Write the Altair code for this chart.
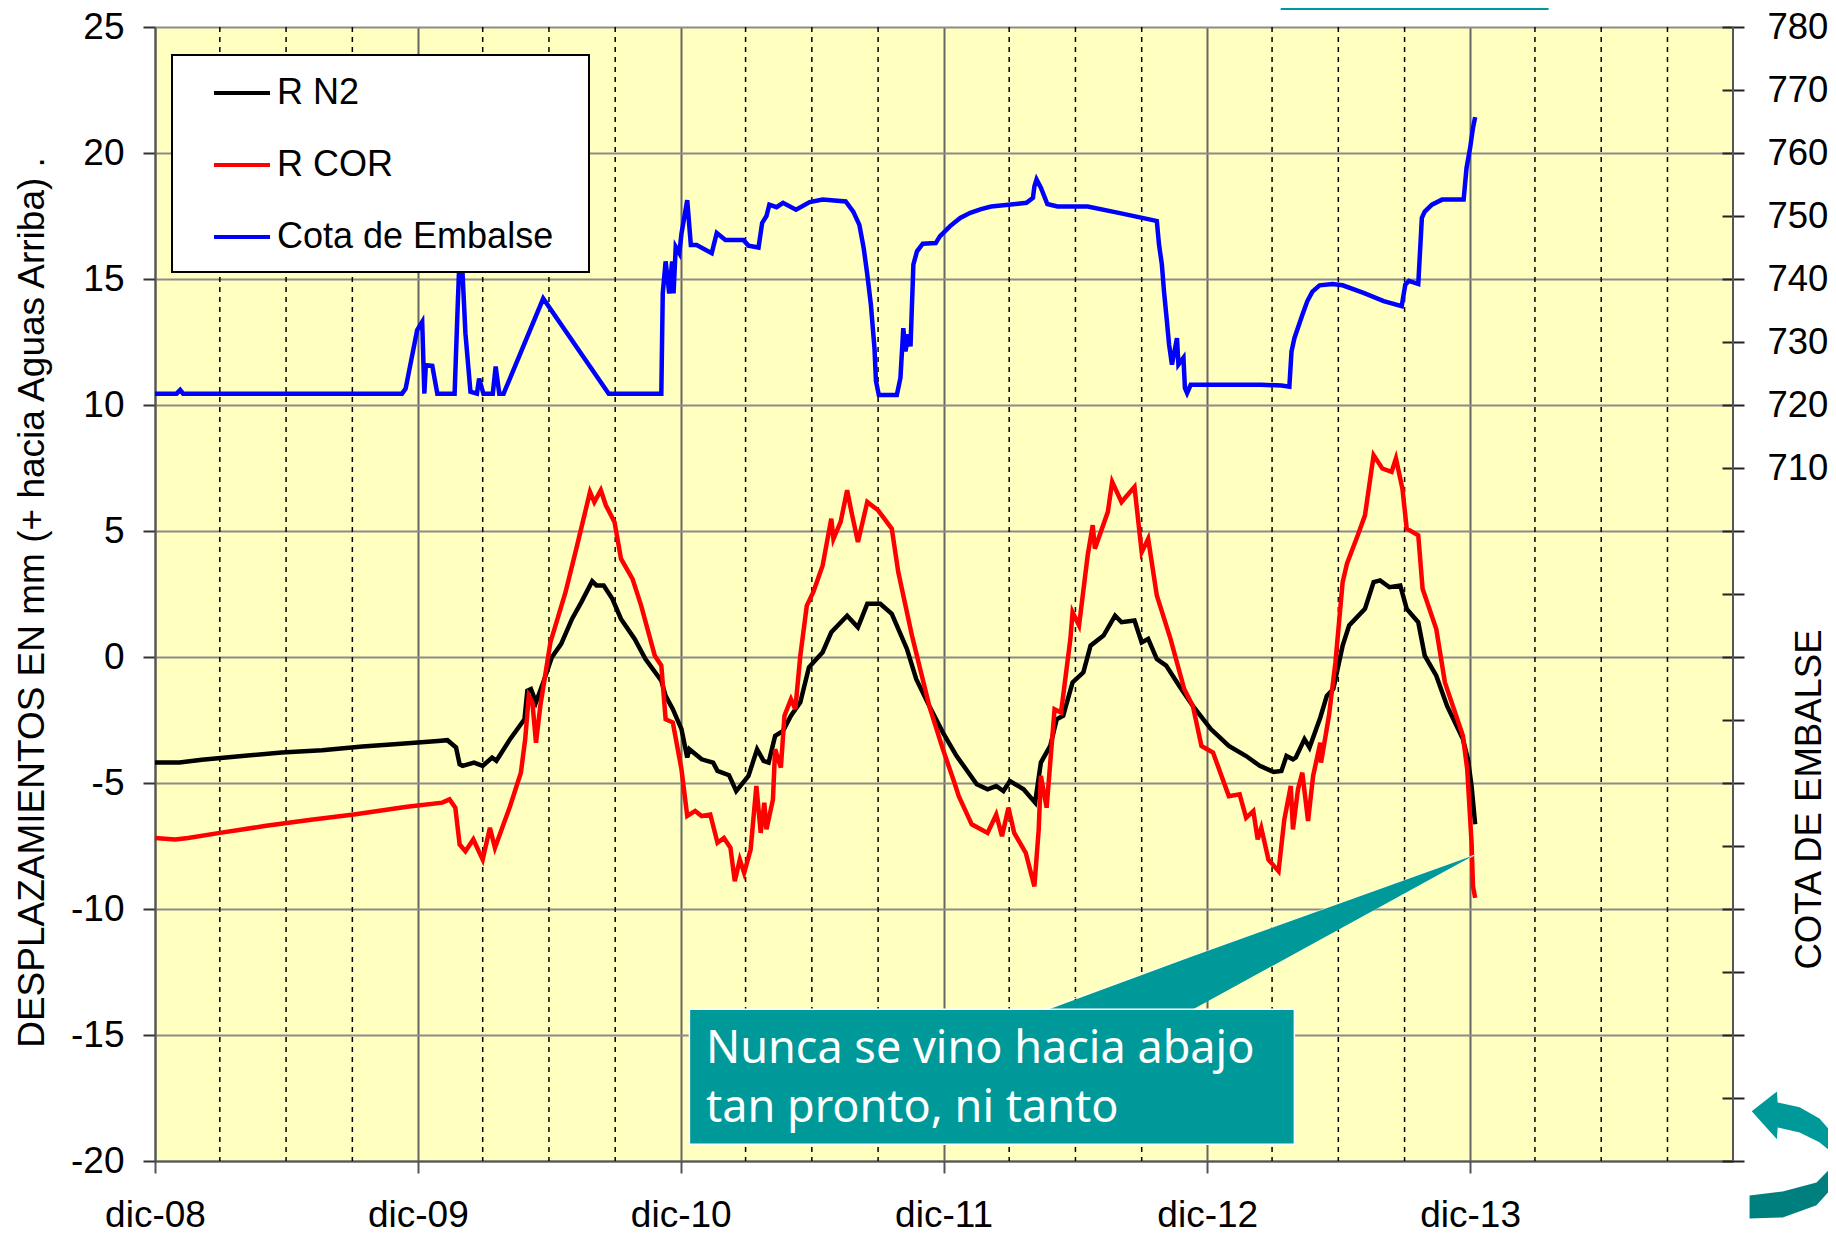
import altair as alt
import pandas as pd

ORIGEN = pd.Timestamp("2008-12-01")

def fecha(dias):
    return [(ORIGEN + pd.Timedelta(days=float(d))).strftime("%Y-%m-%dT%H:%M:%SZ") for d in dias]

# --- R N2 (mm) ---
dias_n2 = [0,34,65,121,176,232,288,337,393,406,418,423,427,443,455,468,474,493,513,517,522,529,539,551,564,579,592,607,613,623,635,647,666,681,703,709,719,731,739,742,759,775,781,797,807,824,836,845,852,861,872,883,896,908,927,939,961,976,989,1007,1023,1044,1057,1075,1094,1113,1141,1156,1168,1178,1187,1206,1222,1230,1243,1252,1261,1274,1289,1299,1317,1333,1342,1360,1370,1379,1391,1404,1422,1441,1466,1491,1515,1534,1553,1564,1571,1580,1584,1596,1603,1618,1627,1636,1649,1658,1680,1692,1701,1714,1729,1738,1754,1763,1779,1794,1816,1823,1828,1833]
val_n2 = [-4.19,-4.19,-4.08,-3.93,-3.79,-3.70,-3.55,-3.45,-3.33,-3.30,-3.59,-4.26,-4.32,-4.19,-4.32,-3.99,-4.12,-3.26,-2.47,-1.34,-1.27,-1.80,-1.01,-0.01,0.52,1.51,2.18,3.01,2.84,2.84,2.31,1.51,0.72,-0.08,-0.94,-1.54,-2.07,-2.86,-3.99,-3.66,-4.06,-4.19,-4.52,-4.69,-5.32,-4.72,-3.66,-4.12,-4.19,-3.13,-2.93,-2.33,-1.80,-0.41,0.19,0.98,1.64,1.18,2.11,2.11,1.71,0.32,-0.88,-1.94,-3.0,-3.93,-5.05,-5.25,-5.12,-5.32,-4.92,-5.25,-5.78,-4.19,-3.53,-2.47,-2.33,-1.01,-0.61,0.45,0.85,1.64,1.38,1.45,0.58,0.72,-0.08,-0.34,-1.14,-1.94,-2.86,-3.53,-3.93,-4.32,-4.56,-4.52,-3.93,-4.06,-3.99,-3.26,-3.59,-2.40,-1.54,-1.27,0.45,1.25,1.91,2.97,3.04,2.77,2.84,1.91,1.38,0.05,-0.74,-1.94,-3.26,-4.06,-5.12,-6.64]

# --- R COR (mm) ---
dias_cor = [0,28,46,90,152,214,276,350,399,409,417,423,431,442,455,465,472,493,508,514,519,524,529,535,549,570,585,604,610,619,626,638,647,663,675,694,703,709,719,731,739,750,759,771,781,790,799,805,812,818,827,835,841,846,849,858,861,869,874,883,889,896,905,914,927,939,942,952,961,967,976,989,1004,1023,1032,1051,1075,1094,1110,1116,1134,1156,1168,1176,1185,1193,1209,1221,1227,1230,1238,1249,1258,1271,1274,1283,1295,1302,1305,1323,1329,1342,1360,1370,1379,1391,1410,1429,1441,1453,1469,1491,1506,1515,1525,1531,1536,1546,1560,1568,1577,1580,1587,1593,1601,1608,1618,1619,1630,1639,1649,1655,1670,1680,1692,1704,1717,1723,1732,1738,1754,1760,1779,1791,1816,1822,1828,1830,1833]
val_cor = [-7.18,-7.24,-7.18,-6.98,-6.71,-6.47,-6.25,-5.94,-5.78,-5.65,-5.98,-7.44,-7.71,-7.24,-8.04,-6.78,-7.57,-5.92,-4.59,-3.26,-1.54,-1.80,-3.40,-1.94,0.58,2.57,4.30,6.55,6.15,6.62,6.02,5.36,3.90,3.10,2.04,0.05,-0.34,-2.47,-2.60,-4.46,-6.31,-6.11,-6.31,-6.25,-7.37,-7.18,-7.57,-8.90,-8.04,-8.57,-7.64,-5.12,-6.98,-5.78,-6.84,-5.65,-3.66,-4.39,-2.33,-1.67,-2.07,0.05,2.04,2.57,3.63,5.49,4.69,5.36,6.62,5.76,4.56,6.15,5.82,5.09,3.37,0.85,-1.94,-3.66,-4.99,-5.52,-6.64,-6.98,-6.25,-7.11,-5.98,-6.98,-7.77,-9.10,-6.84,-4.72,-5.98,-2.07,-2.20,0.72,1.78,1.25,4.03,5.23,4.30,5.76,6.95,6.15,6.75,4.16,4.69,2.44,0.72,-1.27,-1.94,-3.53,-3.79,-5.52,-5.45,-6.38,-6.11,-7.24,-6.78,-8.04,-8.50,-6.45,-5.12,-6.84,-5.25,-4.59,-6.51,-4.72,-3.40,-4.19,-2.33,-0.21,2.97,3.70,4.83,5.62,8.01,7.48,7.35,7.88,6.68,5.09,4.83,2.71,1.11,-1.01,-3.13,-4.46,-7.37,-9.10,-9.56]

# --- Cota de Embalse (m) ---
dias_cota = [0,30,35,39,343,348,364,371,374,376,385,392,416,420,422,427,431,438,447,450,456,469,473,478,484,539,630,703,705,709,714,718,720,723,728,731,739,744,752,773,780,792,817,824,838,843,849,853,863,872,890,909,927,959,969.5,978,984,989,994,999,1001,1005,1030,1035,1039,1042,1046,1049,1053,1058,1066,1084,1090,1104,1118,1132,1147,1161,1210,1219,1221,1224,1230,1239,1253,1295,1338,1387,1391,1394,1398,1401,1405,1408,1412,1419,1421,1428,1430,1433,1438,1536,1564,1575,1578,1582,1593,1600,1607,1617,1635,1649,1678,1706,1731,1736,1741,1754,1759,1763,1773,1787,1817,1821,1826,1830,1833]
val_cota = [721.8,721.8,722.4,721.8,721.8,722.6,731.9,733.2,721.8,726.3,726.2,721.8,721.8,734.8,740.9,740.9,731.4,722.1,721.8,724.2,721.8,721.8,726.1,721.8,721.8,736.9,721.8,721.8,737.7,742.8,737.7,742.8,737.7,745.1,744.1,747.2,752.5,745.4,745.4,744.1,747.3,746.2,746.2,745.3,745.0,748.9,750.0,751.8,751.4,752.1,751.0,752.2,752.6,752.3,750.7,748.6,744.9,740.7,735.9,729.0,723.8,721.6,721.6,724.3,732.2,728.5,731.2,729.3,742.3,744.4,745.6,745.7,746.8,748.4,749.7,750.5,751.1,751.5,752.1,752.9,754.7,755.8,754.5,751.9,751.5,751.5,750.5,749.3,749.2,745.5,742.3,738.0,733.3,729.6,726.4,730.6,726.4,727.5,722.7,721.9,723.2,723.2,723.1,722.9,728.5,730.6,734.3,736.5,738.0,739.0,739.2,739.0,737.8,736.5,735.7,739.1,739.7,739.2,749.7,750.7,751.8,752.6,752.6,757.6,760.8,764.0,765.7]

NOMBRES = ["R N2", "R COR", "Cota de Embalse"]
COLORES = ["#000000", "#ff0000", "#0000ff"]

ANIOS = [2008, 2009, 2010, 2011, 2012, 2013]
TRIMESTRES = ["2009-03-01","2009-06-01","2009-09-01","2010-03-01","2010-06-01","2010-09-01",
              "2011-03-01","2011-06-01","2011-09-01","2012-03-01","2012-06-01","2012-09-01",
              "2013-03-01","2013-06-01","2013-09-01","2014-03-01","2014-06-01","2014-09-01"]
TICKS_COTA = list(range(600, 790, 10))
TICKS_MM = list(range(-20, 30, 5))

# callout and decorative shapes (days, mm)
caja_dias, caja_mm = [742, 1582], [-13.98, -19.34]
pico_dias, pico_sup, pico_inf = [1235, 1437, 1831.5], [-14.05, -11.91, -7.87], [-14.05, -14.05, -7.87]
borde_dias, borde_mm = [1235, 1831.5, 1437], [-13.98, -7.87, -13.98]
texto_dias, texto_mm = [765, 765], [-16.13, -18.47]
texto_lineas = ["Nunca se vino hacia abajo", "tan pronto, ni tanto"]
franja_dias, franja_mm = [1563, 1935], [25.67, 26.2]
flecha1_dias, flecha1_sup, flecha1_inf = [2217,2252,2253,2283.5,2311,2334], [-18.03,-17.24,-17.68,-17.87,-18.31,-19.06], [-18.03,-19.14,-18.67,-18.87,-19.26,-19.78]
flecha2_dias, flecha2_sup, flecha2_inf = [2214,2260,2307,2334], [-21.37,-21.21,-20.85,-20.06], [-22.28,-22.24,-21.76,-20.89]

FUENTE = "Liberation Sans"
TEAL = "#009999"

def tabla(dias, **cols):
    return pd.DataFrame({"fecha": fecha(dias), **cols})

dom_x = [alt.DateTime(year=2008, month=12, date=1, utc=True), alt.DateTime(year=2014, month=12, date=1, utc=True)]
eje_x = alt.Axis(
    values=[alt.DateTime(year=a, month=12, date=1, utc=True) for a in ANIOS],
    labelExpr="'dic-' + utcFormat(datum.value, '%y')",
    title=None, grid=True, gridColor="#666666", gridWidth=2,
    domainColor="#555555", domainWidth=2, tickColor="#555555", tickWidth=2, tickSize=12,
    labelPadding=24, labelFontSize=37, labelFont=FUENTE, labelColor="#000000", labelOverlap=False, labelFlush=False,
)
X = alt.X("fecha:T", scale=alt.Scale(type="utc", domain=dom_x), axis=eje_x)

eje_mm = alt.Axis(
    values=TICKS_MM, grid=True, gridColor="#8c8c8c", gridWidth=2,
    domainColor="#555555", domainWidth=2, tickColor="#333333", tickWidth=2, tickSize=12,
    labelPadding=19, labelFontSize=37, labelFont=FUENTE, labelColor="#000000",
    labelExpr="'' + datum.value",
    title="DESPLAZAMIENTOS EN mm (+ hacia Aguas Arriba) .", titleFont=FUENTE, titleFontSize=37,
    titleFontWeight="normal", titleColor="#000000", titleX=-123, titleY=575, titleAngle=270, titleBaseline="middle",
)
Y = alt.Y("mm:Q", scale=alt.Scale(domain=[-20, 25]), axis=eje_mm)

color = alt.Color(
    "serie:N", scale=alt.Scale(domain=NOMBRES, range=COLORES),
    legend=alt.Legend(
        orient="none", legendX=57, legendY=36, title=None, padding=0,
        symbolType="stroke", symbolSize=3136, symbolStrokeWidth=4, symbolOffset=0,
        labelFont=FUENTE, labelFontSize=36, labelColor="#000000", labelOffset=5, labelLimit=400,
        rowPadding=24, zindex=1,
    ),
)

df_n2 = tabla(dias_n2, mm=val_n2, serie=NOMBRES[0])
df_cor = tabla(dias_cor, mm=val_cor, serie=NOMBRES[1])
df_cota = tabla(dias_cota, m=val_cota, serie=NOMBRES[2])

menores = alt.Chart(pd.DataFrame({"fecha": [t + "T00:00:00Z" for t in TRIMESTRES]})).mark_rule(
    color="#000000", strokeWidth=1.5, strokeDash=[5, 5]).encode(x=X)
derecha = alt.Chart(pd.DataFrame({"fecha": ["2014-12-01T00:00:00Z"]})).mark_rule(
    color="#555555", strokeWidth=2).encode(x=X)
linea_n2 = alt.Chart(df_n2).mark_line(strokeWidth=4.5, interpolate="linear").encode(x=X, y=Y, color=color)
linea_cor = alt.Chart(df_cor).mark_line(strokeWidth=4.5, interpolate="linear").encode(x=X, y=Y, color=color)

def area(dias, sup, inf, col, **kw):
    d = tabla(dias, mm=sup, mm2=inf)
    return alt.Chart(d).mark_area(color=col, interpolate="linear", **kw).encode(x=X, y=Y, y2="mm2:Q")

def rect(dias, vals, col, **kw):
    d = pd.DataFrame({"fecha": fecha(dias[:1]), "f2": fecha(dias[1:]), "mm": vals[:1], "mm2": vals[1:]})
    return alt.Chart(d).mark_rect(color=col, **kw).encode(x=X, x2="f2:T", y=Y, y2="mm2:Q")

caja = rect(caja_dias, caja_mm, TEAL, stroke="#ffffff", strokeWidth=1.5)
pico = area(pico_dias, pico_sup, pico_inf, TEAL)
borde = alt.Chart(tabla(borde_dias, mm=borde_mm)).mark_line(color="#ffffff", strokeWidth=1).encode(x=X, y=Y, order="orden:Q").transform_calculate(orden="0")
franja = rect(franja_dias, franja_mm, TEAL)
flecha1 = area(flecha1_dias, flecha1_sup, flecha1_inf, TEAL)
flecha2 = area(flecha2_dias, flecha2_sup, flecha2_inf, "#007f7f")
texto = alt.Chart(tabla(texto_dias, mm=texto_mm, txt=texto_lineas)).mark_text(
    align="left", baseline="alphabetic", font="Noto Sans", fontSize=45, color="#ffffff").encode(x=X, y=Y, text="txt:N")

izquierda = alt.layer(menores, derecha, linea_n2, linea_cor, franja, flecha1, flecha2, borde, pico, caja, texto)

eje_cota = alt.Axis(
    orient="right", values=TICKS_COTA, offset=-11, domain=False, grid=False,
    tickColor="#222222", tickWidth=2, tickSize=22,
    labelExpr="datum.value >= 710 ? datum.value : ''",
    labelPadding=23, labelFontSize=36.5, labelFont=FUENTE, labelColor="#000000", labelOverlap=False,
    title="COTA DE EMBALSE", titleFont=FUENTE, titleFontSize=36.5, titleFontWeight="normal", titleColor="#000000",
    titleX=87, titleY=772, titleAngle=270, titleBaseline="middle",
)
linea_cota = alt.Chart(df_cota).mark_line(strokeWidth=4.5, interpolate="linear").encode(
    x=X, y=alt.Y("m:Q", scale=alt.Scale(domain=[600, 780]), axis=eje_cota), color=color)

caja_leyenda = alt.Chart(pd.DataFrame({"a": [1]})).mark_rect(fill="#ffffff", stroke="#000000", strokeWidth=2).encode(
    x=alt.value(17), x2=alt.value(434), y=alt.value(28), y2=alt.value(245))

chart = alt.layer(izquierda, linea_cota, caja_leyenda).resolve_scale(y="independent").properties(
    width=1578, height=1134,
    padding={"left": 147, "top": 19, "right": 95, "bottom": 72},
    autosize=alt.AutoSizeParams(type="none"),
    background="#ffffff",
).configure_view(fill="#ffffc0", stroke=None)

chart.save("out.html", embed_options={"renderer": "svg", "actions": False})
